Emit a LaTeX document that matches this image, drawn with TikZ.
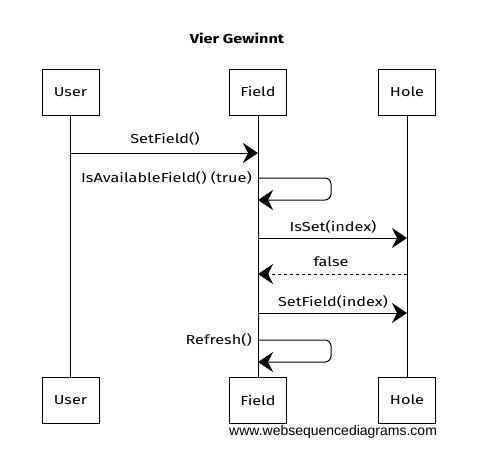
\documentclass[tikz,border=0pt]{standalone}
\usepackage{fontspec}
\setmainfont[FakeStretch=1.25]{Fira Sans}
\newfontfamily\urlfont{Liberation Sans}
\usetikzlibrary{arrows.meta}
\begin{document}
\begin{tikzpicture}[x=1pt,y=-1pt,
  actor/.style={draw,line width=0.9pt,minimum width=57pt,minimum height=46pt,inner sep=0pt,font=\fontsize{13}{15}\selectfont},
  life/.style={line width=0.8pt},
  msg/.style={line width=1pt,-{Stealth[length=15pt,width=20pt,inset=5pt]}},
  ret/.style={msg,dashed},
  lbl/.style={font=\fontsize{13}{15}\selectfont,inner sep=1pt}]
\useasboundingbox (0,0) rectangle (489,467);
\node[font=\fontsize{13}{15}\selectfont\bfseries] (title) at (237,38) {Vier Gewinnt};
\node[actor] (ut) at (70.5,92) {User};
\node[actor] (ft) at (258,92) {Field};
\node[actor] (ht) at (407,92) {Hole};
\node[actor] (ub) at (70.5,400) {User};
\node[actor] (fb) at (258,400) {Field};
\node[actor] (hb) at (407,400) {Hole};
\draw[life] (ut.south) -- (ub.north);
\draw[life] (ft.south) -- (fb.north);
\draw[life] (ht.south) -- (hb.north);
% message anchor points
\coordinate (a1) at (ut.south |- 0,153);
\coordinate (b1) at (ft.south |- 0,153);
\coordinate (a2) at (ft.south |- 0,178);
\coordinate (b2) at (ft.south |- 0,200);
\coordinate (a3) at (ft.south |- 0,238);
\coordinate (b3) at (ht.south |- 0,238);
\coordinate (a4) at (ht.south |- 0,274);
\coordinate (b4) at (ft.south |- 0,274);
\coordinate (a5) at (ft.south |- 0,313);
\coordinate (b5) at (ht.south |- 0,313);
\coordinate (a6) at (ft.south |- 0,340);
\coordinate (b6) at (ft.south |- 0,362);
\draw[msg] (a1) -- (b1);
\node[lbl] (l1) at (165,139) {SetField()};
\draw[msg,rounded corners=6pt] (a2) -- ++(73,0) |- (b2);
\node[lbl,anchor=east] (l2) at (253,178) {IsAvailableField() (true)};
\draw[msg] (a3) -- (b3);
\node[lbl] (l3) at (333,227) {IsSet(index)};
\draw[ret] (a4) -- (b4);
\node[lbl] (l4) at (331,262) {false};
\draw[msg] (a5) -- (b5);
\node[lbl] (l5) at (333,302) {SetField(index)};
\draw[msg,rounded corners=6pt] (a6) -- ++(73,0) |- (b6);
\node[lbl,anchor=east] (l6) at (253,340) {Refresh()};
\node[font=\urlfont\fontsize{14}{16}\selectfont,anchor=west,inner sep=0pt] (url) at (229,432) {www.websequencediagrams.com};
\end{tikzpicture}
\end{document}
